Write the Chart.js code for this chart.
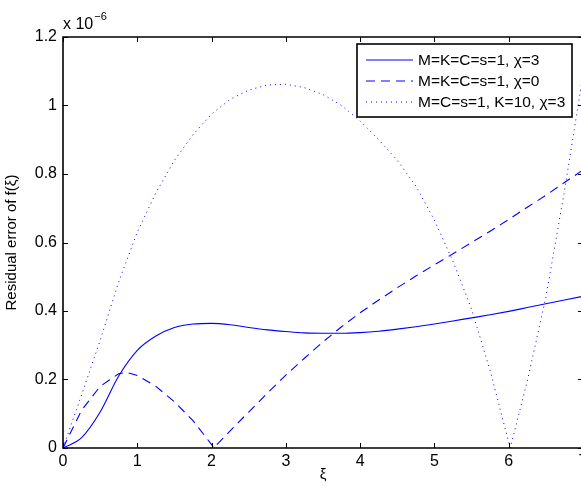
<!DOCTYPE html>
<html>
<head>
<meta charset="utf-8">
<script src="https://cdn.jsdelivr.net/npm/chart.js@4.4.1/dist/chart.umd.min.js"></script>
<style>
  html, body { margin: 0; padding: 0; background: #fff; overflow: hidden; }
  #wrap { position: relative; width: 600px; height: 486px; }
</style>
</head>
<body>
<div id="wrap"><canvas id="grafica"></canvas></div>
<script>
// values are in units of 1e-6 (see the axis multiplier)
var xiSolid = [0, 0.25, 0.5, 0.75, 1, 1.25, 1.5, 1.75, 2, 2.25, 2.5, 2.75, 3, 3.25, 3.5, 3.75, 4, 4.25, 4.5, 4.75, 5, 5.25, 5.5, 5.75, 6, 6.25, 6.5, 6.75, 7];
var errChi3 = [0, 0.03, 0.105, 0.21, 0.285, 0.327, 0.352, 0.362, 0.364, 0.36, 0.352, 0.345, 0.34, 0.336, 0.335, 0.335, 0.337, 0.341, 0.347, 0.354, 0.362, 0.371, 0.38, 0.389, 0.399, 0.41, 0.421, 0.432, 0.443];

var xiDashed = [0, 0.25, 0.5, 0.75, 0.85, 1, 1.25, 1.5, 1.75, 2, 2.03, 2.25, 2.5, 2.75, 3, 3.25, 3.5, 3.75, 4, 4.25, 4.5, 4.75, 5, 5.25, 5.5, 5.75, 6, 6.25, 6.5, 6.75, 7];
var errChi0 = [0, 0.11, 0.18, 0.217, 0.221, 0.212, 0.18, 0.135, 0.08, 0.01, 0, 0.05, 0.105, 0.16, 0.213, 0.262, 0.31, 0.354, 0.395, 0.432, 0.468, 0.502, 0.535, 0.567, 0.6, 0.633, 0.667, 0.703, 0.738, 0.775, 0.812];

var xiDotted = [0, 0.25, 0.5, 0.75, 1, 1.25, 1.5, 1.75, 2, 2.25, 2.5, 2.75, 3, 3.25, 3.5, 3.75, 4, 4.25, 4.5, 4.75, 5, 5.25, 5.5, 5.75, 6, 6.02, 6.25, 6.5, 6.75, 7];
var errK10 = [0, 0.155, 0.314, 0.485, 0.63, 0.745, 0.84, 0.915, 0.975, 1.018, 1.045, 1.06, 1.062, 1.052, 1.032, 1.0, 0.955, 0.9, 0.84, 0.765, 0.665, 0.545, 0.405, 0.226, 0.017, 0, 0.195, 0.44, 0.75, 1.09];

var etiquetas = ['M=K=C=s=1, \u03c7=3', 'M=K=C=s=1, \u03c7=0', 'M=C=s=1, K=10, \u03c7=3'];
var yTicks = [0, 0.2, 0.4, 0.6, 0.8, 1, 1.2];

function pares(xs, ys) {
  return xs.map(function (v, i) { return {x: v, y: ys[i]}; });
}

var fuente = '"Liberation Sans", Arial, Helvetica, sans-serif';
var azul = '#0000ff';

// MATLAB like frame: box, inward ticks, x10^-6 and the legend box
var marco = {
  id: 'marco',
  afterDraw: function (chart) {
    var ctx = chart.ctx, a = chart.chartArea;
    var sx = chart.scales.x, sy = chart.scales.y;
    var L = Math.round(a.left), R = Math.round(a.right);
    var T = Math.round(a.top), B = Math.round(a.bottom);
    ctx.save();
    ctx.strokeStyle = '#000';
    ctx.lineWidth = 1.6;
    ctx.beginPath();
    ctx.rect(L, T, R - L, B - T);
    ctx.stroke();
    ctx.lineWidth = 1;
    ctx.beginPath();
    sx.ticks.forEach(function (t) {
      var px = Math.round(sx.getPixelForValue(t.value)) + 0.5;
      ctx.moveTo(px, B); ctx.lineTo(px, B - 5);
      ctx.moveTo(px, T); ctx.lineTo(px, T + 5);
    });
    sy.ticks.forEach(function (t) {
      var py = Math.round(sy.getPixelForValue(t.value)) + 0.5;
      ctx.moveTo(L, py); ctx.lineTo(L + 5, py);
      ctx.moveTo(R, py); ctx.lineTo(R - 5, py);
    });
    ctx.stroke();

    // exponent
    ctx.fillStyle = '#000';
    ctx.textBaseline = 'alphabetic';
    ctx.textAlign = 'left';
    ctx.font = '16px ' + fuente;
    ctx.fillText('x 10', a.left, 29);
    var w = ctx.measureText('x 10').width;
    ctx.font = '11px ' + fuente;
    ctx.fillText('\u22126', a.left + w + 1, 20);

    // legend
    var bw = 215, bh = 73;
    var bx = Math.round(a.right - 11 - bw), by = Math.round(a.top + 7);
    ctx.fillStyle = '#fff';
    ctx.fillRect(bx, by, bw, bh);
    ctx.strokeStyle = '#000';
    ctx.lineWidth = 1.6;
    ctx.strokeRect(bx, by, bw, bh);
    ctx.font = '15.5px ' + fuente;
    ctx.textBaseline = 'middle';
    chart.data.datasets.forEach(function (ds, i) {
      var cy = by + 16 + i * 21;
      ctx.save();
      ctx.strokeStyle = ds.borderColor;
      ctx.lineWidth = ds.borderWidth;
      ctx.setLineDash(ds.borderDash || []);
      ctx.beginPath();
      ctx.moveTo(bx + 9, cy); ctx.lineTo(bx + 56, cy);
      ctx.stroke();
      ctx.restore();
      ctx.fillStyle = '#000';
      ctx.fillText(ds.label, bx + 61, cy + 1);
    });
    ctx.restore();
  }
};

var grafica = new Chart(document.getElementById('grafica'), {
  type: 'line',
  data: {
    datasets: [
      {
        label: etiquetas[0],
        data: pares(xiSolid, errChi3),
        borderColor: azul,
        borderWidth: 1.1,
        pointRadius: 0,
        cubicInterpolationMode: 'monotone'
      },
      {
        label: etiquetas[1],
        data: pares(xiDashed, errChi0),
        borderColor: azul,
        borderWidth: 1.1,
        borderDash: [9, 6],
        pointRadius: 0,
        tension: 0
      },
      {
        label: etiquetas[2],
        data: pares(xiDotted, errK10),
        borderColor: azul,
        borderWidth: 1,
        borderDash: [1, 4],
        pointRadius: 0,
        tension: 0
      }
    ]
  },
  options: {
    responsive: true,
    maintainAspectRatio: false,
    animation: false,
    layout: { padding: { top: 37, right: 17, left: 0, bottom: 0 } },
    plugins: {
      legend: { display: false },
      tooltip: { enabled: false }
    },
    scales: {
      x: {
        type: 'linear',
        min: 0,
        max: 7,
        grid: { display: false, drawTicks: false },
        border: { display: false },
        ticks: {
          stepSize: 1,
          padding: 4,
          maxRotation: 0,
          color: '#000',
          font: { family: fuente, size: 16 }
        },
        title: {
          display: true,
          text: '\u03be',
          color: '#000',
          font: { family: fuente, size: 15 },
          padding: { top: 0, bottom: 2 }
        },
        afterFit: function (s) { s.height = 38; }
      },
      y: {
        min: 0,
        max: 1.2,
        grid: { display: false, drawTicks: false },
        border: { display: false },
        afterBuildTicks: function (s) {
          s.ticks = yTicks.map(function (v) { return {value: v}; });
        },
        ticks: {
          padding: 6,
          color: '#000',
          font: { family: fuente, size: 16 },
          callback: function (v) { return String(Number(v.toFixed(1))); }
        },
        title: {
          display: true,
          text: 'Residual error of f(\u03be)',
          color: '#000',
          font: { family: fuente, size: 15 },
          padding: { top: 3, bottom: 0 }
        },
        afterFit: function (s) { s.width = 63; }
      }
    }
  },
  plugins: [marco]
});
</script>
</body>
</html>
